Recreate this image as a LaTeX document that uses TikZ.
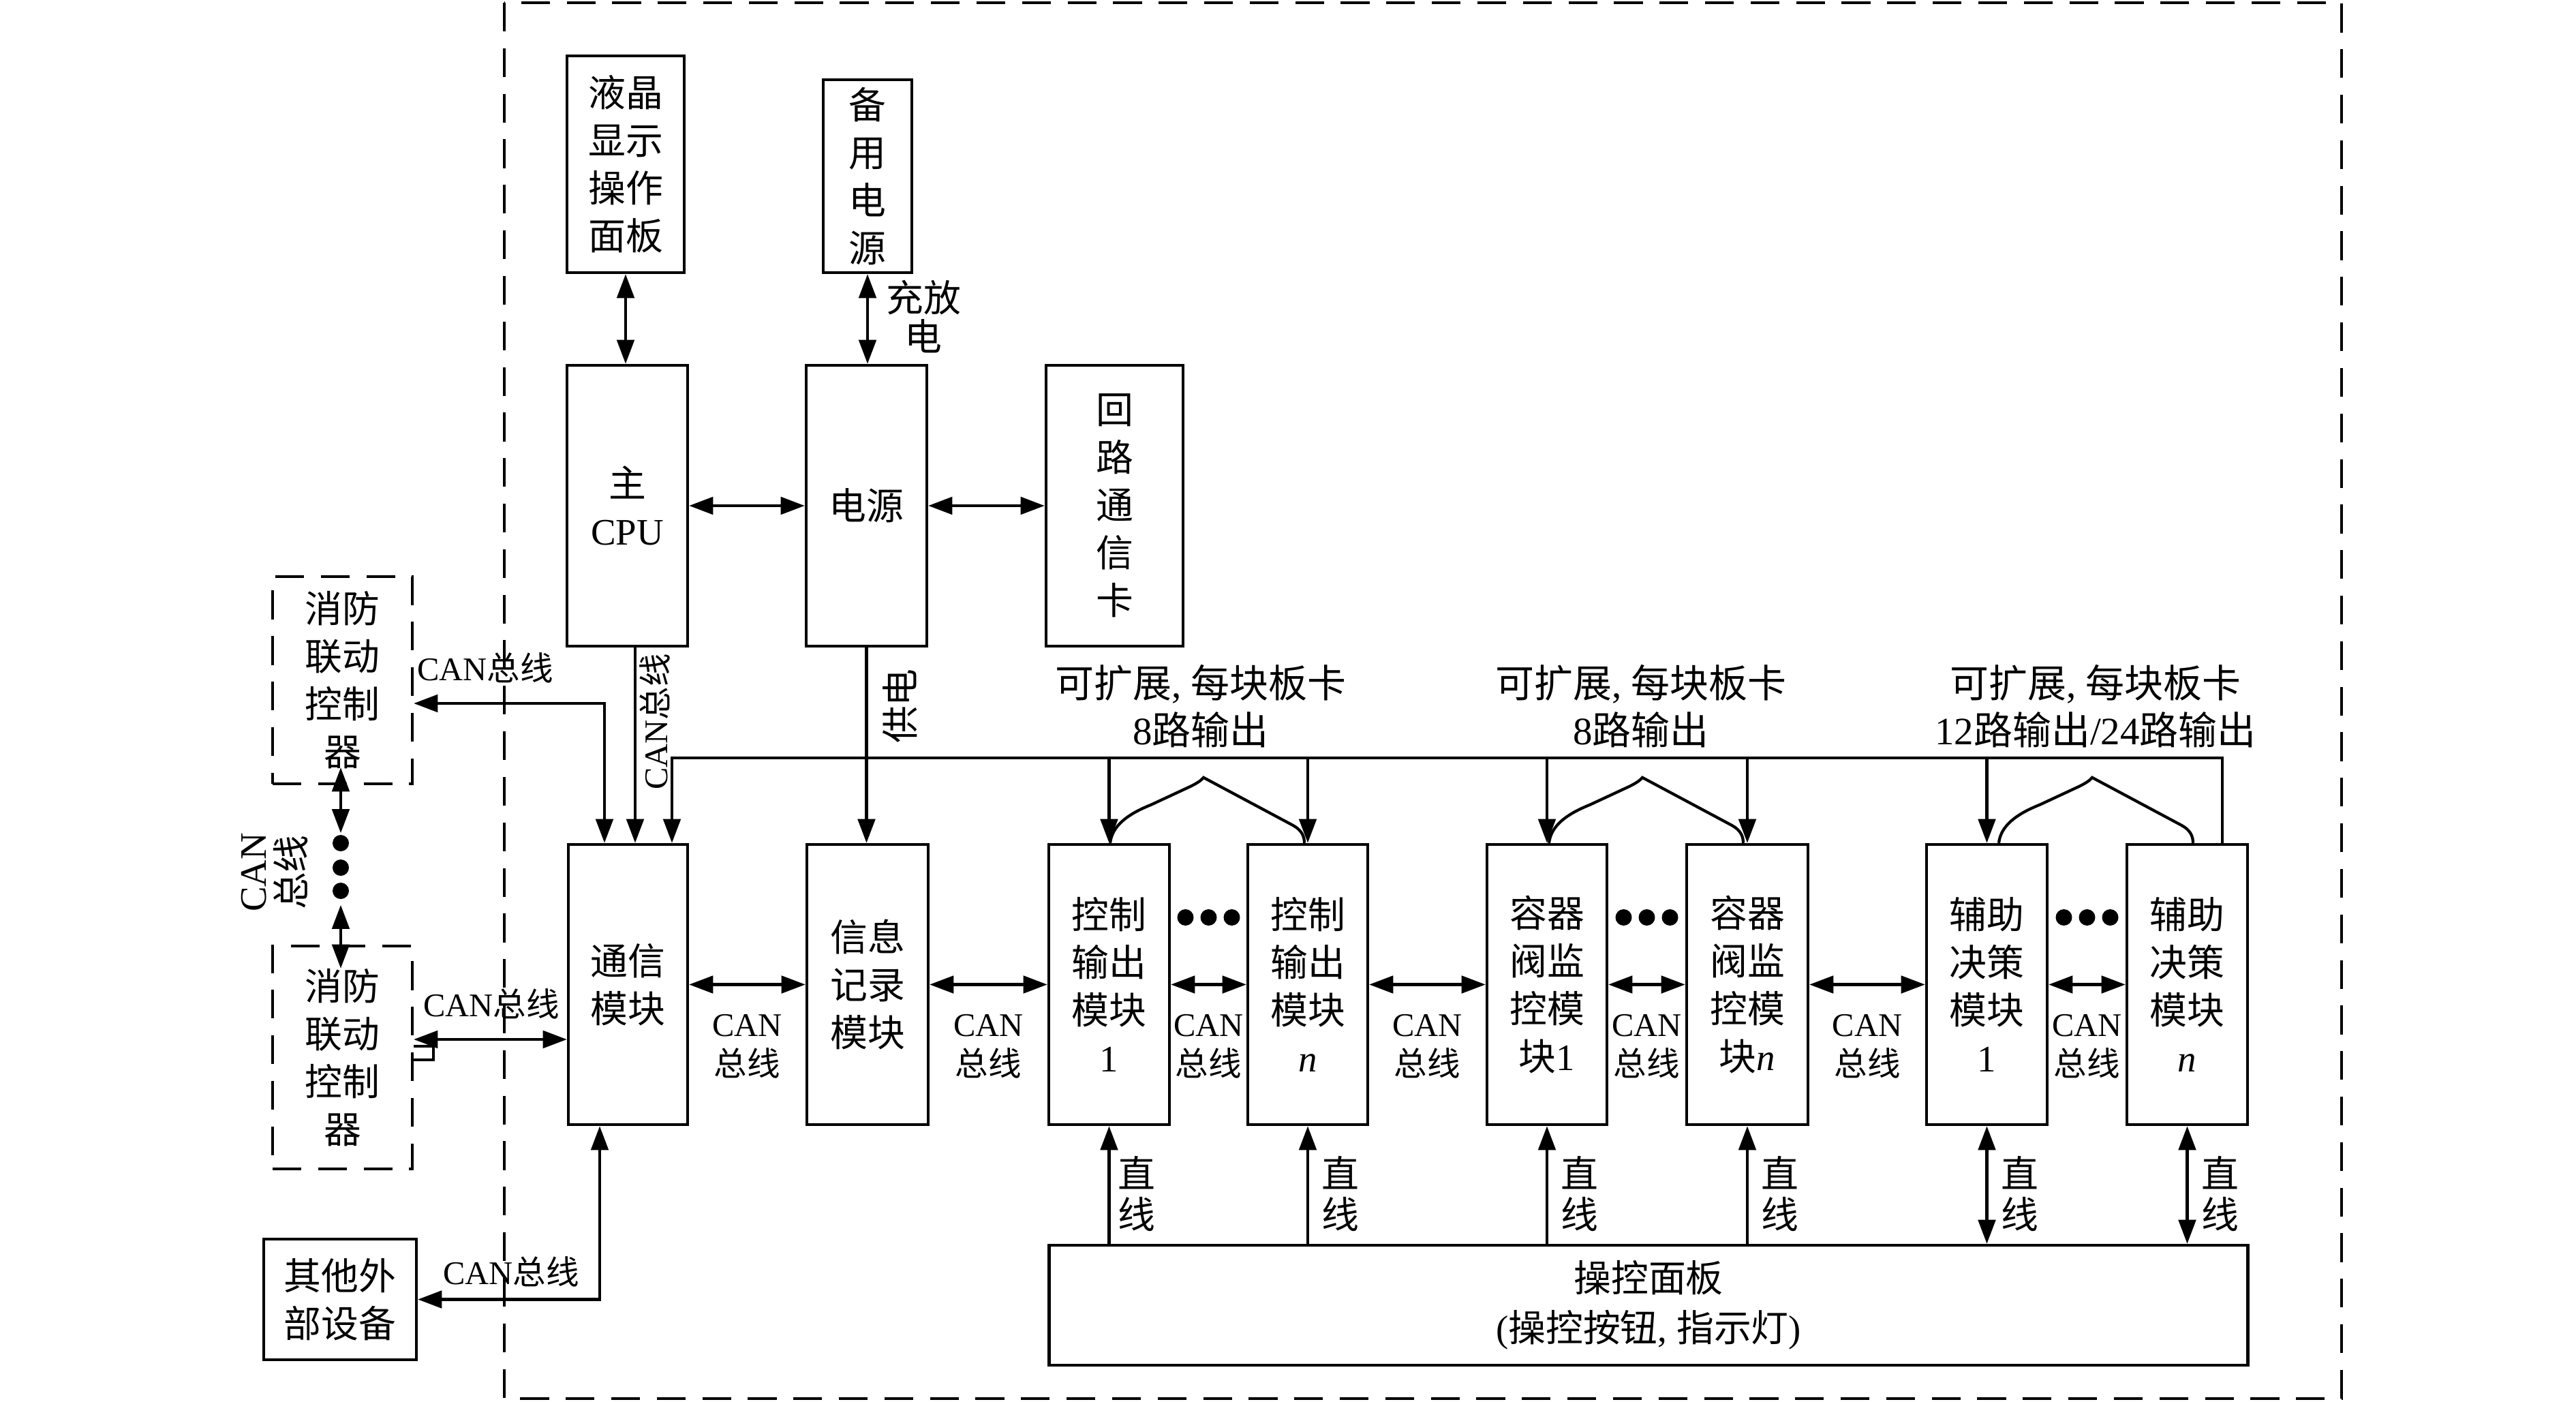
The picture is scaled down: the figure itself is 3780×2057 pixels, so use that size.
\documentclass[tikz,border=0pt]{standalone}
\usepackage{fontspec}
\setmainfont{Liberation Serif}
\newfontfamily\cjkf{Noto Sans CJK SC}
\usetikzlibrary{arrows.meta,calc}
\newcommand{\zhs}[1]{{\cjkf #1}}
\newcommand{\fbig}{\fontsize{15.6pt}{19.9pt}\selectfont}
\newcommand{\ftop}{\fontsize{16.2pt}{19.7pt}\selectfont}
\newcommand{\fsml}{\fontsize{13.8pt}{16.5pt}\selectfont}
\begin{document}
\begin{tikzpicture}[x=0.01cm,y=-0.01cm,line width=1.2pt,
  >={Triangle[length=10pt,width=7.2pt]},
  blk/.style={draw,line width=1.2pt,inner sep=0pt,align=center,font=\fbig},
  dblk/.style={blk,dash pattern=on 12pt off 7pt},
  lbl/.style={inner sep=0pt,align=center,font=\fbig},
  tlbl/.style={inner sep=0pt,align=center,font=\ftop},
  slbl/.style={inner sep=0pt,align=center,font=\fsml},
  brc/.pic={\draw[line width=1.2pt] (0,0) .. controls (3,-25) and (25,-42) .. (60,-56) -- (118,-83) .. controls (128,-88) and (134,-92) .. (137,-96) -- (268,-26) .. controls (281,-19) and (285,-10) .. (285,0);}
]
\useasboundingbox (0,0) rectangle (3780,2057);
\fill[white] (0,0) rectangle (3780,2057);
% outer frame
\draw[dash pattern=on 12pt off 7pt] (740,4) rectangle (3436,2052);

% top boxes
\node[blk,minimum width=1.72cm,minimum height=3.18cm] (lcd) at (918,241) {\zhs{液晶}\\\zhs{显示}\\\zhs{操作}\\\zhs{面板}};
\node[blk,minimum width=1.30cm,minimum height=2.83cm] (bak) at (1273,258.5) {\zhs{备}\\\zhs{用}\\\zhs{电}\\\zhs{源}};
\node[blk,minimum width=1.77cm,minimum height=4.12cm] (cpu) at (920.5,742) {\zhs{主}\\CPU};
\node[blk,minimum width=1.77cm,minimum height=4.12cm] (pwr) at (1271.5,742) {\zhs{电源}};
\node[blk,minimum width=2.01cm,minimum height=4.12cm] (loop) at (1635.5,742) {\zhs{回}\\\zhs{路}\\\zhs{通}\\\zhs{信}\\\zhs{卡}};

% left boxes
\node[dblk,minimum width=2.05cm,minimum height=3.04cm] (fire1) at (502.5,998) {\zhs{消防}\\\zhs{联动}\\\zhs{控制}\\\zhs{器}};
\node[dblk,minimum width=2.05cm,minimum height=3.27cm] (fire2) at (502.5,1551.5) {\zhs{消防}\\\zhs{联动}\\\zhs{控制}\\\zhs{器}};
\node[blk,minimum width=2.24cm,minimum height=1.77cm] (ext) at (499,1906.5) {\zhs{其他外}\\\zhs{部设备}};

% module row
\node[blk,minimum width=1.75cm,minimum height=4.11cm] (comm) at (921.5,1444.5) {\zhs{通信}\\\zhs{模块}};
\node[blk,minimum width=1.78cm,minimum height=4.11cm] (info) at (1273,1444.5) {\zhs{信息}\\\zhs{记录}\\\zhs{模块}};
\node[blk,minimum width=1.77cm,minimum height=4.11cm] (c1) at (1627.5,1444.5) {\zhs{控制}\\\zhs{输出}\\\zhs{模块}\\1};
\node[blk,minimum width=1.76cm,minimum height=4.11cm] (cn) at (1919,1444.5) {\zhs{控制}\\\zhs{输出}\\\zhs{模块}\\\textit{n}};
\node[blk,minimum width=1.76cm,minimum height=4.11cm] (v1) at (2270,1444.5) {\zhs{容器}\\\zhs{阀监}\\\zhs{控模}\\\zhs{块}1};
\node[blk,minimum width=1.78cm,minimum height=4.11cm] (vn) at (2564,1444.5) {\zhs{容器}\\\zhs{阀监}\\\zhs{控模}\\\zhs{块}\textit{n}};
\node[blk,minimum width=1.77cm,minimum height=4.11cm] (a1) at (2915.5,1444.5) {\zhs{辅助}\\\zhs{决策}\\\zhs{模块}\\1};
\node[blk,minimum width=1.77cm,minimum height=4.11cm] (an) at (3209.5,1444.5) {\zhs{辅助}\\\zhs{决策}\\\zhs{模块}\\\textit{n}};
\node[blk,minimum width=17.58cm,minimum height=1.76cm] (panel) at (2419,1915) {\zhs{操控面板}\\[1pt](\zhs{操控按钮}, \zhs{指示灯})};

% top connections
\draw[<->] (lcd.south) -- (lcd.south |- cpu.north);
\draw[<->] (bak.south) -- (bak.south |- pwr.north);
\node[lbl] (cfd) at (1355,465) {\zhs{充放}\\[-3.7pt]\zhs{电}};
\draw[<->] (cpu.east) -- (pwr.west);
\draw[<->] (pwr.east) -- (loop.west);
\draw[->] (pwr.south) -- (pwr.south |- info.north);
\node[lbl,rotate=90] (gd) at (1321,1036) {\zhs{供电}};
\coordinate (cpuo) at ($(cpu.south)+(11.5,0)$);
\draw[->] (cpuo) -- (cpuo |- comm.north);
\node[slbl,rotate=90] (lcan1) at (961,1059) {CAN\zhs{总线}};

% fire controllers
\coordinate (f1o) at ($(comm.north)+(-34.5,0)$);
\coordinate (f1e) at ($(fire1.east)+(0,34)$);
\draw[<->] (f1o) |- (f1e);
\node[slbl] (lcan2) at (712,980) {CAN\zhs{总线}};
\coordinate (f2e) at ($(fire2.east)+(0,-26.5)$);
\draw[<->] (f2e) -- (f2e -| comm.west);
\draw ($(fire2.east)+(0,-16.5)$) -- ++(29,0) -- ++(0,20) -- ++(-29,0);
\node[slbl] (lcan3) at (721,1473) {CAN\zhs{总线}};
\coordinate (fd1) at ($(fire1.south)+(-2.5,-26)$);
\coordinate (fd2) at ($(fire1.south)+(-2.5,70)$);
\coordinate (fd3) at ($(fire2.north)+(-2.5,-58)$);
\coordinate (fd4) at ($(fire2.north)+(-2.5,35)$);
\draw[<->] (fd1) -- (fd2);
\draw[<->] (fd3) -- (fd4);
\foreach \yy in {1237,1273,1307} \fill (500,\yy) circle[radius=0.12cm];
\node[lbl,rotate=90] (lcan4) at (403,1280) {CAN\\[-3.7pt]\zhs{总线}};

% other devices
\coordinate (exo) at ($(comm.south)+(-41.5,0)$);
\draw[<->] (exo) |- (ext.east);
\node[slbl] (lcan5) at (750,1866) {CAN\zhs{总线}};

% bus
\coordinate (busL) at ($(comm.north)+(64.5,-125)$);
\coordinate (busR) at ($(an.north)+(51.5,-125)$);
\draw[->] (an.north -| busR) -- (busR) -- (busL) -- (busL |- comm.north);
\foreach \m in {c1,cn,v1,vn,a1} \draw[->] (\m.north |- busL) -- (\m.north);
\pic at ($(c1.north)+(1.5,0)$) {brc};
\pic at ($(v1.north)+(3,0)$) {brc};
\pic at ($(a1.north)+(17.5,0)$) {brc};
\node[tlbl] (t1) at (1762,1036) {\zhs{可扩展}, \zhs{每块板卡}\\8\zhs{路输出}};
\node[tlbl] (t2) at (2408,1036) {\zhs{可扩展}, \zhs{每块板卡}\\8\zhs{路输出}};
\node[tlbl] (t3) at (3075,1036) {\zhs{可扩展}, \zhs{每块板卡}\\12\zhs{路输出}/24\zhs{路输出}};

% horizontal CAN links
\foreach \a/\b in {comm/info,info/c1,c1/cn,cn/v1,v1/vn,vn/a1,a1/an} \draw[<->] (\a.east) -- (\b.west);
\foreach \gx in {1096.5,1450.5,1773.5,2094.5,2416.5,2740,3062.5} \node[slbl] at (\gx,1535) {CAN\\\zhs{总线}};
\foreach \gx in {1773.5,2416.5,3062.5} \foreach \dx in {-34,0,34} \fill (\gx+\dx,1346) circle[radius=0.12cm];

% panel links
\foreach \m in {c1,cn,v1,vn} \draw[->] (\m.south |- panel.north) -- (\m.south);
\foreach \m in {a1,an} \draw[<->] (\m.south |- panel.north) -- (\m.south);
\node[lbl] (z1) at ($(c1.south)+(40,99)$) {\zhs{直}\\[-2.9pt]\zhs{线}};
\foreach \m in {cn,v1,vn,a1,an} \node[lbl] at ($(\m.south)+(48,99)$) {\zhs{直}\\[-2.9pt]\zhs{线}};
\end{tikzpicture}
\end{document}
